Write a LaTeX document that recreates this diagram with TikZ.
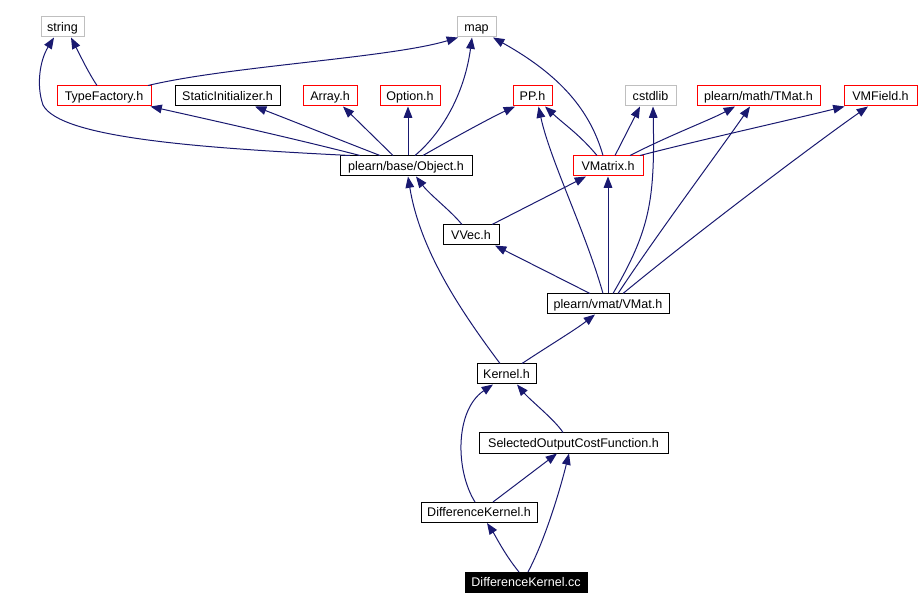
\documentclass[tikz,border=0pt]{standalone}
\usepackage{fontspec}
\setmainfont{Liberation Sans}
\usetikzlibrary{arrows.meta,calc}
\definecolor{edgeblue}{HTML}{191970}
\definecolor{boxgray}{HTML}{BFBFBF}
\definecolor{boxred}{HTML}{FF0000}
\tikzset{
  box/.style={draw, line width=0.75pt, minimum height=15pt, inner sep=0pt, text height=6.8pt, text depth=0.6pt, font=\fontsize{9.4pt}{11pt}\selectfont, text=black, fill=white},
  graybox/.style={box, draw=boxgray},
  redbox/.style={box, draw=boxred},
  blackbox/.style={box, draw=black},
  rootbox/.style={box, draw=black, fill=black, text=white},
  edge/.style={draw=edgeblue, line width=0.75pt, -{Triangle[length=8.5pt,width=6.5pt]}, fill=none},
}
\begin{document}
\begin{tikzpicture}[x=0.75pt,y=-0.75pt]
\useasboundingbox (0,0) rectangle (921,609);
% nodes
\node[graybox, minimum width=32.25pt] (string) at (62.5,27) {string};
\node[graybox, minimum width=29.25pt] (map) at (476.5,27) {map};
\node[redbox, minimum width=70.5pt] (tf) at (104,96) {TypeFactory.h};
\node[blackbox, minimum width=78.75pt] (static) at (227.5,96) {StaticInitializer.h};
\node[redbox, minimum width=40.5pt] (array) at (330,96) {Array.h};
\node[redbox, minimum width=45pt] (option) at (410,96) {Option.h};
\node[redbox, minimum width=29.25pt] (pp) at (532.5,96) {PP.h};
\node[graybox, minimum width=38.25pt] (cstdlib) at (650.5,96) {cstdlib};
\node[redbox, minimum width=92.25pt] (tmat) at (758.5,96) {plearn/math/TMat.h};
\node[redbox, minimum width=54.75pt] (vmfield) at (880.5,96) {VMField.h};
\node[blackbox, minimum width=99pt] (obj) at (406,166) {plearn/base/Object.h};
\node[redbox, minimum width=52.5pt] (vmatrix) at (608,166) {VMatrix.h};
\node[blackbox, minimum width=42pt] (vvec) at (471,235) {VVec.h};
\node[blackbox, minimum width=91.5pt] (vmat) at (608,304) {plearn/vmat/VMat.h};
\node[blackbox, minimum width=44.25pt] (kernel) at (506.5,374) {Kernel.h};
\node[blackbox, minimum width=141.75pt] (socf) at (573.5,443) {SelectedOutputCostFunction.h};
\node[blackbox, minimum width=87pt] (dkh) at (479,512.5) {DifferenceKernel.h};
\node[rootbox, minimum width=91.5pt] (dkcc) at (526,582.5) {DifferenceKernel.cc};
% edges
\draw[edge] ($(tf.north)+(-7,0)$) .. controls (88,72) and (80,55) .. ($(string.south)+(8.5,0)$);
\draw[edge] ($(tf.north)+(44,0)$) .. controls (230,66) and (390,58) .. ($(map.south west)+(1.5,0)$);
\draw[edge] ($(obj.north)+(-56,0)$) .. controls (200,148) and (60,138) .. (43,105) .. controls (36,85) and (40,60) .. ($(string.south)+(-8.5,0)$);
\draw[edge] ($(obj.north)+(-46,0)$) .. controls (300,140) and (220,122) .. ($(tf.south east)+(-1,0)$);
\draw[edge] ($(obj.north)+(-26,0)$) .. controls (340,140) and (290,120) .. ($(static.south)+(27.5,0)$);
\draw[edge] ($(obj.north)+(-13,0)$) -- ($(array.south)+(13,0)$);
\draw[edge] ($(obj.north)+(2,0)$) -- ($(option.south)+(-2,0)$);
\draw[edge] ($(obj.north)+(9,0)$) .. controls (445,130) and (465,90) .. ($(map.south)+(-4.5,0)$);
\draw[edge] ($(obj.north)+(17,0)$) .. controls (450,140) and (490,118) .. ($(pp.south)+(-17.5,0)$);
\draw[edge] ($(vmatrix.north)+(-5,0)$) .. controls (590,110) and (560,75) .. ($(map.south)+(16.5,0)$);
\draw[edge] ($(vmatrix.north)+(-11,0)$) .. controls (580,135) and (565,125) .. ($(pp.south)+(12.5,0)$);
\draw[edge] ($(vmatrix.north)+(7,0)$) -- ($(cstdlib.south)+(-10.5,0)$);
\draw[edge] ($(vmatrix.north)+(22,0)$) .. controls (670,135) and (710,120) .. ($(tmat.south)+(-23.5,0)$);
\draw[edge] ($(vmatrix.north)+(32,0)$) .. controls (700,140) and (790,120) .. ($(vmfield.south west)+(1,0)$);
\draw[edge] ($(vvec.north)+(-9,0)$) .. controls (450,210) and (430,195) .. ($(obj.south)+(10,0)$);
\draw[edge] ($(vvec.north)+(21,0)$) -- ($(vmatrix.south)+(-22,0)$);
\draw[edge] ($(vmat.north)+(-18,0)$) -- ($(vvec.south)+(24,0)$);
\draw[edge] ($(vmat.north)+(-5,0)$) .. controls (585,230) and (550,160) .. ($(pp.south)+(6,0)$);
\draw[edge] (vmat.north) -- (vmatrix.south);
\draw[edge] ($(vmat.north)+(5,0)$) .. controls (650,230) and (655,200) .. ($(cstdlib.south)+(2.5,0)$);
\draw[edge] ($(vmat.north)+(10,0)$) .. controls (660,230) and (720,150) .. ($(tmat.south)+(-8.5,0)$);
\draw[edge] ($(vmat.north)+(15,0)$) .. controls (700,230) and (820,140) .. ($(vmfield.south)+(-12.5,0)$);
\draw[edge] ($(kernel.north)+(-6.5,0)$) .. controls (460,310) and (420,250) .. ($(obj.south)+(2,0)$);
\draw[edge] ($(kernel.north)+(15.5,0)$) .. controls (550,345) and (575,330) .. ($(vmat.south)+(-13,0)$);
\draw[edge] ($(socf.north)+(-10.5,0)$) .. controls (555,420) and (530,400) .. ($(kernel.south)+(10.5,0)$);
\draw[edge] ($(dkh.north)+(-4,0)$) .. controls (455,470) and (455,410) .. ($(kernel.south)+(-13.5,0)$);
\draw[edge] ($(dkh.north)+(14,0)$) -- ($(socf.south)+(-16.5,0)$);
\draw[edge] ($(dkcc.north)+(-7,0)$) .. controls (505,555) and (495,535) .. ($(dkh.south)+(8,0)$);
\draw[edge] ($(dkcc.north)+(2,0)$) .. controls (545,540) and (560,490) .. ($(socf.south)+(-4.5,0)$);
\end{tikzpicture}
\end{document}
